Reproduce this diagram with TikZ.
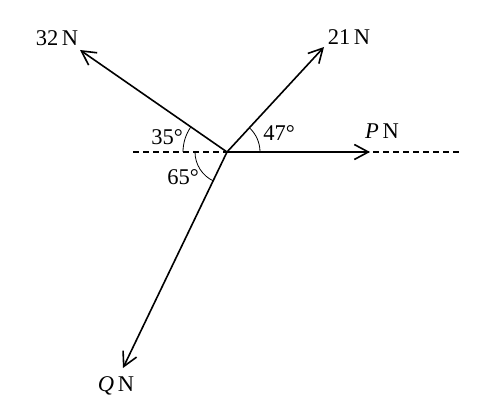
\documentclass[tikz,border=0pt]{standalone}
\usepackage{fontspec}
\setmainfont{Liberation Serif}
\usetikzlibrary{arrows.meta}
\begin{document}
\begin{tikzpicture}[x=1pt,y=-1pt,
  force/.style={line width=1.6pt,-{Straight Barb[length=14pt,width=15pt,line width=1.6pt]}},
  lbl/.style={font=\fontsize{22.5}{26}\selectfont, inner sep=0pt},
  angarc/.style={line width=0.8pt}]
\useasboundingbox (0,0) rectangle (479,412);
\coordinate (O) at (227,152);
\coordinate (L) at (133,152);
\coordinate (R) at (460,152);
\coordinate (A32) at (80,50);
\coordinate (A21) at (324,47);
\coordinate (AQ) at (123,368);
\coordinate (AP) at (370,152);
\draw[line width=1.1pt, dash pattern=on 6pt off 4pt] (L) -- (R);
\draw[force] (O) -- (A32);
\draw[force] (O) -- (A21);
\draw[force] (O) -- (AQ);
\draw[force] (O) -- (AP);
\draw[angarc] ([shift={(180:44)}]O) arc[start angle=180, end angle=215, radius=44];
\draw[angarc] ([shift={(0:33)}]O) arc[start angle=0, end angle=-47, radius=33];
\draw[angarc] ([shift={(180:32)}]O) arc[start angle=180, end angle=115, radius=32];
\node[lbl] (t32) at (57,38) {32\,N};
\node[lbl] (t21) at (349,37) {21\,N};
\node[lbl] (tQ) at (116,386) {\textit{Q}\,N};
\node[lbl] (tP) at (382,131) {\textit{P}\,N};
\node[lbl] (a35) at (167,137) {35\textdegree};
\node[lbl] (a47) at (279,133) {47\textdegree};
\node[lbl] (a65) at (183,177) {65\textdegree};
\end{tikzpicture}
\end{document}
